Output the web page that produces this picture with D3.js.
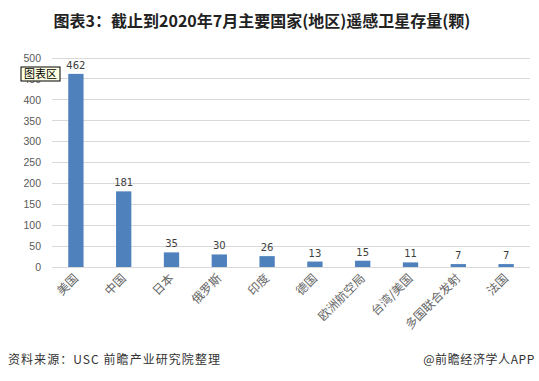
<!DOCTYPE html>
<html><head><meta charset="utf-8">
<script src="https://cdn.jsdelivr.net/npm/d3@7"></script>
<style>body{margin:0;background:#fff;}svg{display:block;}</style>
</head><body>
<script>
const categories = ["美国","中国","日本","俄罗斯","印度","德国","欧洲航空局","台湾/美国","多国联合发射","法国"];
const values = [462,181,35,30,26,13,15,11,7,7];
const yTicks = [0,50,100,150,200,250,300,350,400,450,500];
const titleText = "图表3：截止到2020年7月主要国家(地区)遥感卫星存量(颗)";
const sourceText = "资料来源：USC 前瞻产业研究院整理";
const brandText = "@前瞻经济学人APP";

const W = 539, H = 381;
const svg = d3.select("body").append("svg").attr("width", W).attr("height", H);

const x = d3.scaleBand().domain(categories).range([52, 530]).paddingInner(0.68).paddingOuter(0.34);
const y = d3.scaleLinear().domain([0, 500]).range([267, 58]);

svg.append("text").attr("x", 262).attr("y", 27).attr("text-anchor", "middle")
  .attr("font-family", "'Noto Sans CJK SC',sans-serif").attr("font-weight", "bold")
  .attr("font-size", 16).attr("fill", "#222").text(titleText);

// gridlines
svg.append("g").selectAll("line").data(yTicks.filter(d => d > 0)).join("line")
  .attr("x1", 52).attr("x2", 530).attr("y1", d => y(d)).attr("y2", d => y(d))
  .attr("stroke", "#d9d9d9").attr("stroke-width", 1).attr("shape-rendering", "crispEdges");

// y axis labels
const yAxis = d3.axisLeft(y).tickValues(yTicks).tickSize(0).tickPadding(0);
const ya = svg.append("g").attr("transform", "translate(41,0)").call(yAxis);
ya.select(".domain").remove();
ya.selectAll("text").attr("font-family", "'Liberation Sans',Arial,sans-serif").attr("font-size", 10.5).attr("fill", "#595959");

// bars
svg.append("g").selectAll("rect").data(values).join("rect")
  .attr("x", (d, i) => x(categories[i])).attr("width", x.bandwidth())
  .attr("y", d => y(d)).attr("height", d => y(0) - y(d))
  .attr("fill", "#4f81bd");

// value labels
svg.append("g").selectAll("text").data(values).join("text")
  .attr("x", (d, i) => x(categories[i]) + x.bandwidth() / 2).attr("y", d => y(d) - 5)
  .attr("text-anchor", "middle").attr("font-family", "'DejaVu Sans',sans-serif")
  .attr("font-size", 10).attr("fill", "#404040").text(d => d);

// x axis
const xAxis = d3.axisBottom(x).tickSize(0).tickPadding(0);
const xa = svg.append("g").attr("transform", `translate(0,${y(0)})`).call(xAxis);
xa.select(".domain").attr("stroke", "#d9d9d9").attr("d", "M52,0.5H530");
xa.selectAll("text").attr("font-family", "'Noto Sans CJK SC',sans-serif").attr("font-size", 12).attr("fill", "#666")
  .attr("text-anchor", "end").attr("dy", null)
  .attr("transform", "translate(3,12) rotate(-45)");

// chart area tooltip
const tip = svg.append("g").attr("transform", "translate(21,67)");
tip.append("rect").attr("width", 39).attr("height", 14).attr("fill", "#ffffe1").attr("stroke", "#000").attr("stroke-width", 1);
tip.append("text").attr("x", 19.5).attr("y", 11).attr("text-anchor", "middle")
  .attr("font-family", "'Noto Sans CJK SC',sans-serif").attr("font-size", 11).attr("fill", "#000").text("图表区");

// footer
svg.append("text").attr("x", 8).attr("y", 364).attr("font-family", "'Noto Sans CJK SC',sans-serif")
  .attr("font-size", 12).attr("fill", "#333").attr("textLength", 212).attr("lengthAdjust", "spacing").text(sourceText);
svg.append("text").attr("x", 535).attr("y", 364).attr("text-anchor", "end").attr("font-family", "'Noto Sans CJK SC',sans-serif")
  .attr("font-size", 12).attr("fill", "#333").attr("letter-spacing", 0.6).text(brandText);
</script>
</body></html>
